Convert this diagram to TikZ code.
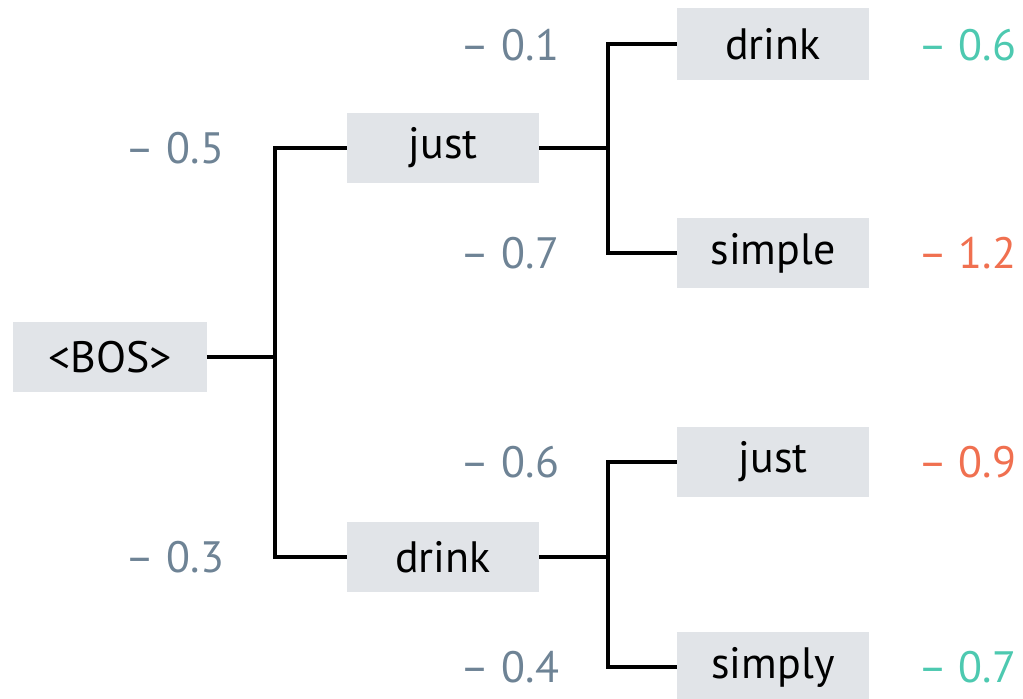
\documentclass[tikz,border=0pt]{standalone}
\usepackage{fontspec}
\setmainfont{PT Sans}
\usepackage{xcolor}
\usetikzlibrary{positioning}
\definecolor{boxgray}{HTML}{E1E4E8}
\definecolor{scoregray}{HTML}{6E8395}
\definecolor{goodteal}{HTML}{4DC9B0}
\definecolor{badorange}{HTML}{F07050}
\tikzset{font={\fontsize{25pt}{30}\selectfont}}

\begin{document}
\begin{tikzpicture}[
tok/.style={fill=boxgray,minimum width=3.84cm,minimum height=1.4cm,inner sep=0pt},
logp/.style={text=scoregray},
good/.style={text=goodteal},
bad/.style={text=badorange},
edge/.style={line width=2pt}
]
\useasboundingbox (0,0) rectangle (20.46,13.98);

% tokens
\node[tok,minimum width=3.86cm] (bos) at (2.2,6.84) {<BOS>};
\node[tok] (just) at (8.86,11.02) {just};
\node[tok] (drink) at (8.86,2.84) {drink};
\node[tok,minimum height=1.44cm] (jdrink) at (15.46,13.1) {drink};
\node[tok] (jsimple) at (15.46,8.92) {simple};
\node[tok] (djust) at (15.46,4.74) {just};
\node[tok] (dsimply) at (15.46,0.64) {simply};

% step scores
\node[logp] (s1) at (3.5,11.02) {– 0.5};
\node[logp] (s2) at (3.5,2.84) {– 0.3};
\node[logp] (s3) at (10.2,13.08) {– 0.1};
\node[logp] (s4) at (10.2,8.92) {– 0.7};
\node[logp] (s5) at (10.2,4.74) {– 0.6};
\node[logp] (s6) at (10.2,0.64) {– 0.4};

% totals
\node[good] (t1) at (19.34,13.08) {– 0.6};
\node[bad] (t2) at (19.34,8.92) {– 1.2};
\node[bad] (t3) at (19.34,4.74) {– 0.9};
\node[good] (t4) at (19.34,0.64) {– 0.7};

% branches
\coordinate (f0) at (5.5,6.84);
\coordinate (f1) at (12.16,11.02);
\coordinate (f2) at (12.16,2.84);
\draw[edge] (bos.east) -- (f0);
\draw[edge] (just.west) -| (f0) |- (drink.west);
\draw[edge] (just.east) -- (f1);
\draw[edge] (jdrink.west) -| (f1) |- (jsimple.west);
\draw[edge] (drink.east) -- (f2);
\draw[edge] (djust.west) -| (f2) |- (dsimply.west);

\end{tikzpicture}
\end{document}
